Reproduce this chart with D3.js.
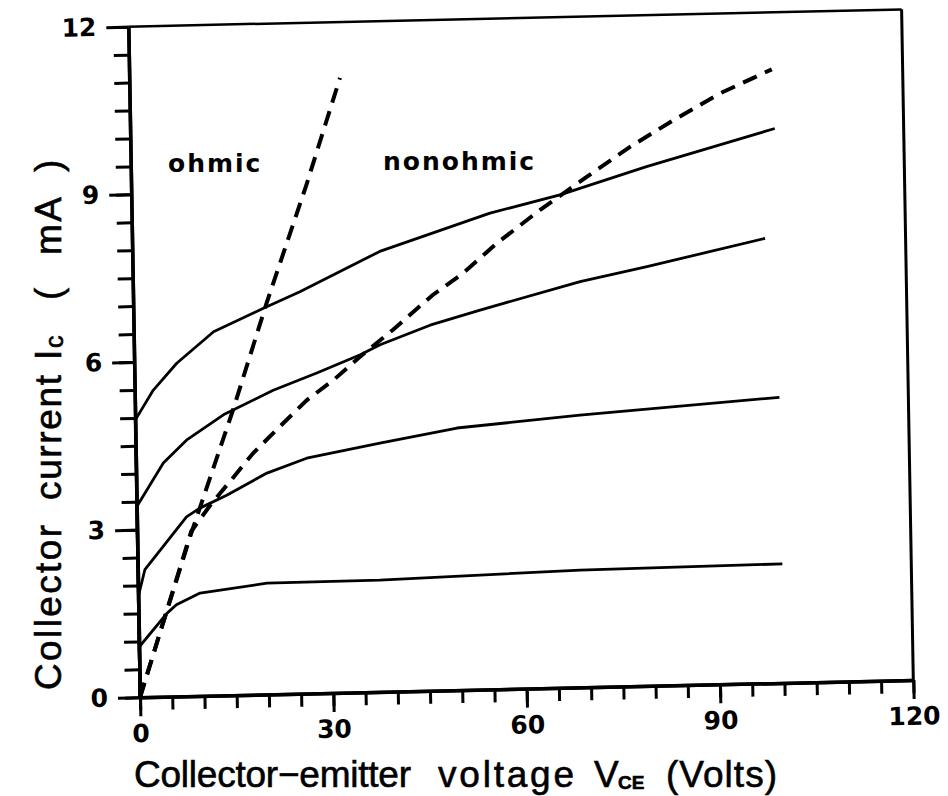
<!DOCTYPE html>
<html>
<head>
<meta charset="utf-8">
<script src="https://cdn.jsdelivr.net/npm/d3@7"></script>
<style>
  body { margin: 0; background: #fff; }
  svg { display: block; }
</style>
</head>
<body>
<div id="chart"></div>
<script>
// values (volts, mA)
let xTicks = [0, 30, 60, 90, 120];
let yTicks = [0, 3, 6, 9, 12];

// collector curves, highest base current first
let curve1V = [0, 0, 2.9, 6.6, 12.4, 20.2, 25.9, 38.4, 55.6, 66.5, 80.0, 100];
let curve1I = [0, 4.96, 5.49, 5.96, 6.51, 6.91, 7.19, 7.88, 8.52, 8.82, 9.29, 9.92];

let curve2V = [0, 0, 4.25, 7.9, 13.7, 21.5, 28.3, 35.1, 38.2, 46.0, 53.8, 69.4, 79.8, 98.2];
let curve2I = [0, 3.41, 4.18, 4.58, 5.02, 5.44, 5.73, 6.04, 6.21, 6.54, 6.79, 7.26, 7.50, 7.96];

let curve3V = [0, 0, 1.1, 7.7, 9.8, 14.0, 20.3, 26.5, 37.9, 49.9, 69.0, 100];
let curve3I = [0, 1.80, 2.28, 3.21, 3.36, 3.58, 3.96, 4.21, 4.45, 4.69, 4.87, 5.11];

let curve4V = [0, 0, 4.4, 5.9, 9.6, 20.0, 37.5, 68.6, 100];
let curve4I = [0, 0.90, 1.49, 1.64, 1.84, 1.99, 2.00, 2.10, 2.13];

// dashed boundaries
let ohmicV = [0, 3.8, 8.2, 15.2, 20.7, 27.2, 32.7];
let ohmicI = [0, 1.33, 2.85, 5.10, 7.00, 9.10, 11.0];

let kneeV = [0, 3.8, 8.4, 11.5, 15.1, 18.2, 21.9, 26.7, 30.9, 35.0, 40.2, 46.5, 51.3, 56.6, 63.4, 70.7, 77.5, 84.3, 91.6, 99.7];
let kneeI = [0, 1.33, 2.95, 3.42, 3.90, 4.32, 4.73, 5.25, 5.60, 6.00, 6.47, 7.08, 7.46, 7.98, 8.56, 9.13, 9.65, 10.11, 10.57, 10.98];

let svgWidth = 948, svgHeight = 796;
let width = 773.3, height = 670.6;

let svg = d3.select("#chart")
  .append("svg")
  .attr("width", svgWidth)
  .attr("height", svgHeight);

// the scan is slightly skewed, so the plot frame is too
let plot = svg.append("g")
  .attr("transform", "matrix(1,-0.02237,0.01745,1,128.3,26.7)");

let x = d3.scaleLinear().domain([0, 120]).range([0, width]);
let y = d3.scaleLinear().domain([0, 12]).range([height, 0]);

// minor ticks
plot.append("g")
  .attr("class", "axis")
  .attr("transform", `translate(0,${height})`)
  .call(d3.axisBottom(x).tickValues(d3.range(0, 121, 5)).tickSize(13).tickSizeOuter(0).tickFormat(""));
plot.append("g")
  .attr("class", "axis")
  .call(d3.axisLeft(y).tickValues(d3.range(0, 12.01, 0.5)).tickSize(15).tickSizeOuter(0).tickFormat(""));

// major ticks with labels
plot.append("g")
  .attr("class", "axis major")
  .attr("transform", `translate(0,${height})`)
  .call(d3.axisBottom(x).tickValues(xTicks).tickSize(19).tickSizeOuter(0).tickPadding(8).tickFormat(d3.format("d")));
plot.append("g")
  .attr("class", "axis major")
  .call(d3.axisLeft(y).tickValues(yTicks).tickSize(22).tickSizeOuter(0).tickPadding(10).tickFormat(d3.format("d")));

plot.selectAll(".axis path")
  .attr("stroke", "#000")
  .attr("stroke-width", 3.5);
plot.selectAll(".axis line")
  .attr("stroke", "#000")
  .attr("stroke-width", 3);
plot.selectAll(".axis text")
  .attr("fill", "#000")
  .style("font-family", "'DejaVu Sans', sans-serif")
  .style("font-weight", "bold")
  .style("font-size", "25px");

// box: top and right
plot.append("path")
  .attr("d", `M0,0H${width}`)
  .attr("stroke", "#000")
  .attr("stroke-width", 2.5)
  .attr("fill", "none");
plot.append("path")
  .attr("d", `M${width},0V${height}`)
  .attr("stroke", "#000")
  .attr("stroke-width", 3)
  .attr("fill", "none");

let line = d3.line()
  .x(function (d) { return x(d[0]); })
  .y(function (d) { return y(d[1]); });

let solids = [
  d3.zip(curve1V, curve1I),
  d3.zip(curve2V, curve2I),
  d3.zip(curve3V, curve3I),
  d3.zip(curve4V, curve4I)
];

plot.selectAll(".curve")
  .data(solids)
  .enter()
  .append("path")
  .attr("class", "curve")
  .attr("d", line)
  .attr("fill", "none")
  .attr("stroke", "#000")
  .attr("stroke-width", 2.8)
  .attr("stroke-linejoin", "round");

plot.selectAll(".dash")
  .data([d3.zip(ohmicV, ohmicI), d3.zip(kneeV, kneeI)])
  .enter()
  .append("path")
  .attr("class", "dash")
  .attr("d", line)
  .attr("fill", "none")
  .attr("stroke", "#000")
  .attr("stroke-width", 4)
  .attr("stroke-dasharray", "15,9");

// region labels
svg.append("text")
  .attr("x", 168).attr("y", 172)
  .style("font-family", "'DejaVu Sans', sans-serif")
  .style("font-weight", "bold")
  .style("font-size", "25px")
  .style("letter-spacing", "2px")
  .text("ohmic");
svg.append("text")
  .attr("x", 383).attr("y", 170)
  .style("font-family", "'DejaVu Sans', sans-serif")
  .style("font-weight", "bold")
  .style("font-size", "25px")
  .style("letter-spacing", "2px")
  .text("nonohmic");

// x title
let xTitle = svg.append("g")
  .style("font-family", "'Liberation Sans', Arial, sans-serif")
  .style("font-size", "37px")
  .attr("stroke", "#000")
  .attr("stroke-width", 0.6);
xTitle.append("text").attr("x", 134).attr("y", 787)
  .attr("textLength", 277).attr("lengthAdjust", "spacing").text("Collector\u2212emitter");
xTitle.append("text").attr("x", 438).attr("y", 787)
  .attr("textLength", 136).attr("lengthAdjust", "spacing").text("voltage");
xTitle.append("text").attr("x", 594).attr("y", 787).text("V");
xTitle.append("text").attr("x", 618).attr("y", 789)
  .style("font-size", "19px").style("font-weight", "bold").text("CE");
xTitle.append("text").attr("x", 666).attr("y", 787)
  .attr("textLength", 111).attr("lengthAdjust", "spacing").text("(Volts)");

// y title
let yTitle = svg.append("g")
  .attr("transform", "translate(61,0) rotate(-90)")
  .style("font-family", "'Liberation Sans', Arial, sans-serif")
  .style("font-size", "37px")
  .attr("stroke", "#000")
  .attr("stroke-width", 0.6);
yTitle.append("text").attr("x", -690).attr("y", 0)
  .attr("textLength", 165).attr("lengthAdjust", "spacing").text("Collector");
yTitle.append("text").attr("x", -500).attr("y", 0)
  .attr("textLength", 125).attr("lengthAdjust", "spacing").text("current");
yTitle.append("text").attr("x", -360).attr("y", 0).text("I");
yTitle.append("text").attr("x", -348).attr("y", 2)
  .style("font-size", "25px").text("c");
yTitle.append("text").attr("x", -300).attr("y", 0).text("(");
yTitle.append("text").attr("x", -255).attr("y", 0)
  .attr("textLength", 58).attr("lengthAdjust", "spacing").text("mA");
yTitle.append("text").attr("x", -172).attr("y", 0).text(")");
</script>
</body>
</html>
